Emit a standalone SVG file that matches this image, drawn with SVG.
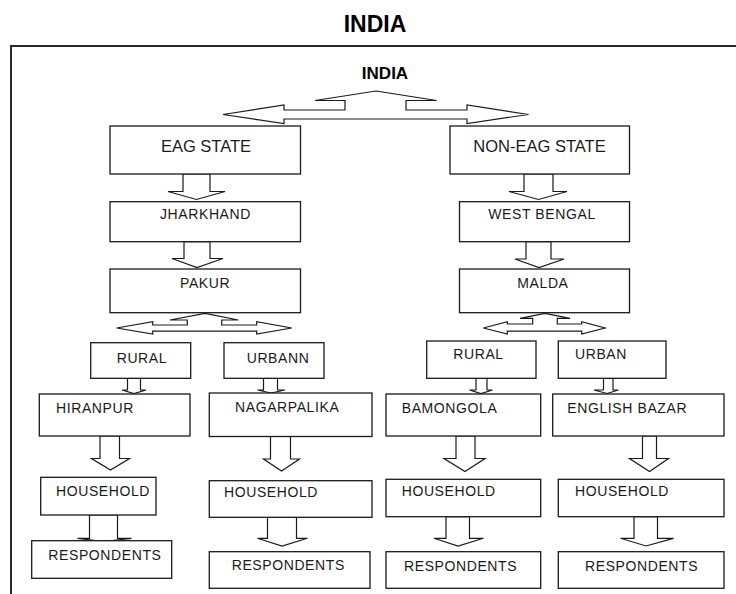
<svg xmlns="http://www.w3.org/2000/svg" width="736" height="594" viewBox="0 0 736 594">
<style>
.bx{fill:#fff;stroke:#1a1a1a;stroke-width:1.3}
.ar{fill:#fff;stroke:#1a1a1a;stroke-width:1.2;stroke-linejoin:miter}
.t{font-family:"Liberation Sans",Arial,sans-serif;font-size:14px;letter-spacing:0.6px;fill:#1a1a1a}
.st{font-family:"Liberation Sans",Arial,sans-serif;font-size:16.5px;fill:#1a1a1a;text-anchor:middle}
.b{font-family:"Liberation Sans",Arial,sans-serif;font-weight:bold;fill:#000;text-anchor:middle}
</style>
<rect width="736" height="594" fill="#fff"/>
<text class="b" x="375" y="31.5" font-size="23">INDIA</text>
<rect x="11" y="46" width="740" height="560" fill="none" stroke="#2a2a2a" stroke-width="2"/>
<g id="india"><text class="b" x="385" y="79" font-size="17">INDIA</text></g>
<g id="connectors">
<path class="ar" d="M376,91 L436.5,100.5 L406,100.5 L406,110 L467,110 L467,105 L528.5,114.5 L467,123.5 L467,119 L284,119 L284,123.5 L223,114.5 L284,105 L284,110 L345,110 L345,100.5 L315,100.5 Z"/>
<path class="ar" d="M205,313.3 L238.3,320 L221.7,320 L221.7,325 L256.7,325 L256.7,321.7 L291.7,328 L256.7,334 L256.7,331.2 L152.7,331.2 L152.7,334 L116.7,328 L152.7,321.7 L152.7,325 L187.3,325 L187.3,320 L170,320 Z"/>
<path class="ar" d="M545,313.3 L570,318.3 L557.3,318.3 L557.3,324 L581.7,324 L581.7,321.7 L605,328 L581.7,334 L581.7,331.2 L507.3,331.2 L507.3,334 L483.3,328 L507.3,321.7 L507.3,324 L532.7,324 L532.7,318.3 L520,318.3 Z"/>
<path class="ar" d="M183,174 L210,174 L210,191.5 L225,191.5 L196.5,199.5 L168,191.5 L183,191.5 Z"/>
<path class="ar" d="M184,241.7 L210,241.7 L210,258.5 L223,258.5 L197,267.5 L172,258.5 L184,258.5 Z"/>
<path class="ar" d="M524,174 L553,174 L553,191.5 L567,191.5 L538.5,199.5 L509,191.5 L524,191.5 Z"/>
<path class="ar" d="M526,241.7 L551,241.7 L551,259 L564,259 L539,267.5 L515,259 L526,259 Z"/>
<path class="ar" d="M127.5,378.3 L140.5,378.3 L140.5,390 L146,390 L134,393.5 L122,390 L127.5,390 Z"/>
<path class="ar" d="M263.5,378.3 L277.5,378.3 L277.5,390 L285,390 L271,393 L257.5,390 L263.5,390 Z"/>
<path class="ar" d="M476,378.3 L487,378.3 L487,390 L492.5,390 L481,393.5 L469.5,390 L476,390 Z"/>
<path class="ar" d="M603.5,378.3 L613,378.3 L613,390 L618.5,390 L607,393.5 L594,390 L603.5,390 Z"/>
<path class="ar" d="M100,436 L119.5,436 L119.5,458.5 L129.5,458.5 L110.5,470 L91.5,458.5 L100,458.5 Z"/>
<path class="ar" d="M270.5,436.5 L290.5,436.5 L290.5,459 L299.5,459 L281.5,471 L263.5,459 L270.5,459 Z"/>
<path class="ar" d="M456,436 L475,436 L475,458.5 L485,458.5 L465,471.5 L444,458.5 L456,458.5 Z"/>
<path class="ar" d="M642.5,436 L656.5,436 L656.5,458.5 L668.5,458.5 L649.5,471.5 L629.5,458.5 L642.5,458.5 Z"/>
<path class="ar" stroke-width="1.6" d="M89.5,515 L117.5,515 L117.5,538.3 L131.5,538.3 L103.5,541.5 L77.5,538.3 L89.5,538.3 Z"/>
<path class="ar" d="M267.5,517.3 L296.5,517.3 L296.5,538.3 L307.5,538.3 L282,546 L257.5,538.3 L267.5,538.3 Z"/>
<path class="ar" d="M446,516.7 L469.5,516.7 L469.5,538.3 L483.5,538.3 L458,546 L434,538.3 L446,538.3 Z"/>
<path class="ar" d="M634,516.7 L657.5,516.7 L657.5,538.3 L673.5,538.3 L646,546 L620.5,538.3 L634,538.3 Z"/>
</g>
<g id="eag"><rect class="bx" x="110" y="126" width="190.5" height="48"/><text class="st" x="206" y="152">EAG STATE</text></g>
<g id="noneag"><rect class="bx" x="450" y="126" width="179.5" height="48"/><text class="st" x="539.5" y="152">NON-EAG STATE</text></g>
<g id="jharkhand"><rect class="bx" x="110" y="201.7" width="190.5" height="40"/><text class="t" x="160" y="219.3">JHARKHAND</text></g>
<g id="westbengal"><rect class="bx" x="459.5" y="201.7" width="170" height="40"/><text class="t" x="488.3" y="219.3">WEST BENGAL</text></g>
<g id="pakur"><rect class="bx" x="110" y="269" width="190.5" height="43.7"/><text class="t" x="180" y="287.7">PAKUR</text></g>
<g id="malda"><rect class="bx" x="459.5" y="269" width="170" height="43.7"/><text class="t" x="517.3" y="287.7">MALDA</text></g>
<g id="rural1"><rect class="bx" x="90.7" y="342.7" width="100" height="35.6"/><text class="t" x="116.7" y="362.7">RURAL</text></g>
<g id="urbann"><rect class="bx" x="224" y="342.7" width="100" height="35.6"/><text class="t" x="246.7" y="362.7">URBANN</text></g>
<g id="rural2"><rect class="bx" x="426.7" y="341" width="109.3" height="37.3"/><text class="t" x="453.3" y="359.3">RURAL</text></g>
<g id="urban"><rect class="bx" x="558.3" y="341" width="107.7" height="37.3"/><text class="t" x="575" y="359.3">URBAN</text></g>
<g id="hiranpur"><rect class="bx" x="39.3" y="394" width="150.7" height="42"/><text class="t" x="56" y="413.3">HIRANPUR</text></g>
<g id="nagarpalika"><rect class="bx" x="209.3" y="393" width="162.7" height="43.5"/><text class="t" x="235" y="411.7">NAGARPALIKA</text></g>
<g id="bamongola"><rect class="bx" x="386" y="394" width="154.7" height="42"/><text class="t" x="401.7" y="413.3">BAMONGOLA</text></g>
<g id="englishbazar"><rect class="bx" x="552.7" y="394" width="171.3" height="42"/><text class="t" x="567.3" y="413.3">ENGLISH BAZAR</text></g>
<g id="household1"><rect class="bx" x="40.7" y="477.3" width="115.3" height="37.7"/><text class="t" x="56" y="496">HOUSEHOLD</text></g>
<g id="household2"><rect class="bx" x="209.3" y="480.7" width="162.7" height="36.6"/><text class="t" x="224" y="497.3">HOUSEHOLD</text></g>
<g id="household3"><rect class="bx" x="386" y="479.3" width="154.7" height="37.4"/><text class="t" x="401.7" y="496">HOUSEHOLD</text></g>
<g id="household4"><rect class="bx" x="558.3" y="479.3" width="165.7" height="37.4"/><text class="t" x="575" y="496">HOUSEHOLD</text></g>
<g id="respondents1"><rect class="bx" x="31.7" y="540.7" width="140" height="37.6"/><text class="t" x="48.3" y="560">RESPONDENTS</text></g>
<g id="respondents2"><rect class="bx" x="209.3" y="551.7" width="160.7" height="36.6"/><text class="t" x="231.7" y="570">RESPONDENTS</text></g>
<g id="respondents3"><rect class="bx" x="386" y="551.7" width="154.7" height="36.6"/><text class="t" x="404" y="570.7">RESPONDENTS</text></g>
<g id="respondents4"><rect class="bx" x="558.3" y="551.7" width="165.7" height="36.6"/><text class="t" x="585" y="570.7">RESPONDENTS</text></g>
</svg>
